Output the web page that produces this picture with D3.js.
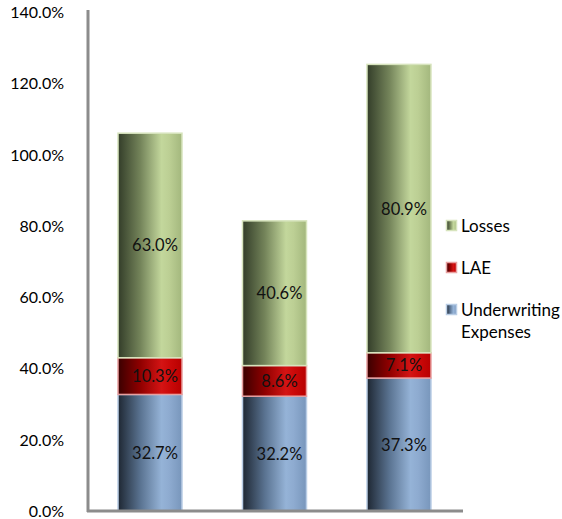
<!DOCTYPE html>
<html>
<head>
<meta charset="utf-8">
<script src="https://cdn.jsdelivr.net/npm/d3@7"></script>
<style>
  body { margin: 0; background: #fff; }
  svg { font-family: Lato, "Open Sans", sans-serif; }
</style>
</head>
<body>
<svg id="svg" width="562" height="519"></svg>
<script>
// chart data
var categories = ["A", "B", "C"];
var seriesNames = ["Underwriting Expenses", "LAE", "Losses"];
var underwriting = [32.7, 32.2, 37.3];
var lae = [10.3, 8.6, 7.1];
var losses = [63.0, 40.6, 80.9];
var yTicks = [0, 20, 40, 60, 80, 100, 120, 140];

var svg = d3.select("svg");

// plot area
var plotLeft = 88, plotRight = 463, plotTop = 12, plotBottom = 511;

var x = d3.scaleBand()
    .domain(categories)
    .range([86.9, 462.1])
    .paddingInner(0.486)
    .paddingOuter(0.25);

var y = d3.scaleLinear().domain([0, 140]).range([plotBottom, plotTop]);

// gradients: dark left, light middle-right
var defs = svg.append("defs");
var grads = {
    "Underwriting Expenses": { stops: ["#1e2733", "#5a7391", "#95b3d7", "#8eabd0", "#7896bb"], edge: "#b9cde5" },
    "LAE": { stops: ["#3a0000", "#900000", "#d41414", "#cc0a0a", "#b80000"], edge: "#e8a0a0" },
    "Losses": { stops: ["#333d29", "#74845a", "#c3d79c", "#bccf94", "#a3b77d"], edge: "#d7e4bd" }
};
var offsets = [0, 0.35, 0.68, 0.8, 1];
seriesNames.forEach(function (name, k) {
    var g = defs.append("linearGradient")
        .attr("id", "grad" + k)
        .attr("x1", "0").attr("x2", "1").attr("y1", "0").attr("y2", "0");
    grads[name].stops.forEach(function (c, j) {
        g.append("stop").attr("offset", offsets[j]).attr("stop-color", c);
    });
});

// y tick labels
svg.append("g").selectAll("text")
    .data(yTicks)
    .enter().append("text")
    .attr("x", 64)
    .attr("y", function (d) { return y(d) + 6; })
    .attr("text-anchor", "end")
    .attr("font-size", 16)
    .attr("fill", "#000")
    .text(function (d) { return d.toFixed(1) + "%"; });

// stack
var table = categories.map(function (c, i) {
    return { cat: c, "Underwriting Expenses": underwriting[i], "LAE": lae[i], "Losses": losses[i] };
});
var stacked = d3.stack().keys(seriesNames)(table);

var barGroup = svg.append("g");
stacked.forEach(function (layer, k) {
    var name = seriesNames[k];
    layer.forEach(function (d) {
        var y0 = y(d[0]), y1 = y(d[1]);
        var bx = x(d.data.cat), bw = x.bandwidth();
        barGroup.append("rect")
            .attr("x", bx)
            .attr("y", y1)
            .attr("width", bw)
            .attr("height", y0 - y1)
            .attr("fill", "url(#grad" + k + ")")
            .attr("stroke", grads[name].edge)
            .attr("stroke-width", 1.5);
        barGroup.append("text")
            .attr("x", bx + bw / 2 + 5)
            .attr("y", (y0 + y1) / 2 + 6)
            .attr("text-anchor", "middle")
            .attr("font-size", 16.5)
            .attr("fill", "#111")
            .text(d.data[name].toFixed(1) + "%");
    });
});

// axis lines
svg.append("line")
    .attr("x1", plotLeft).attr("x2", plotLeft)
    .attr("y1", 10).attr("y2", plotBottom + 1)
    .attr("stroke", "#8c8c8c").attr("stroke-width", 3);
svg.append("line")
    .attr("x1", plotLeft - 1).attr("x2", plotRight)
    .attr("y1", plotBottom).attr("y2", plotBottom)
    .attr("stroke", "#8c8c8c").attr("stroke-width", 3);

// legend
var legendItems = [
    { name: "Losses", k: 2, y: 226, lines: ["Losses"] },
    { name: "LAE", k: 1, y: 268, lines: ["LAE"] },
    { name: "Underwriting Expenses", k: 0, y: 310, lines: ["Underwriting", "Expenses"] }
];
var legend = svg.append("g");
legendItems.forEach(function (it) {
    legend.append("rect")
        .attr("x", 446.5).attr("y", it.y - 5.5)
        .attr("width", 10).attr("height", 10)
        .attr("fill", "url(#grad" + it.k + ")")
        .attr("stroke", grads[it.name].edge)
        .attr("stroke-width", 1.5);
    it.lines.forEach(function (t, j) {
        legend.append("text")
            .attr("x", 461)
            .attr("y", it.y + 6 + j * 22)
            .attr("font-size", 17)
            .attr("fill", "#000")
            .text(t);
    });
});
</script>
</body>
</html>
